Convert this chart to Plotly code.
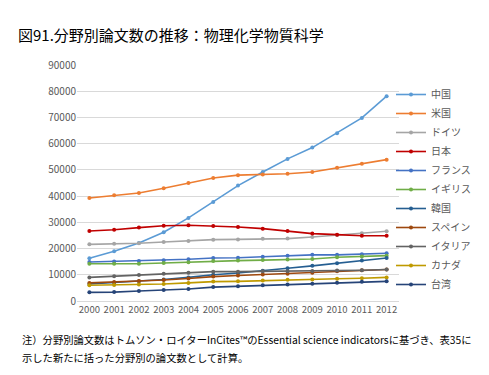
import plotly.graph_objects as go

years = [str(y) for y in range(2000, 2013)]
y_ticks = [0, 10000, 20000, 30000, 40000, 50000, 60000, 70000, 80000, 90000]

series_names = ["中国", "米国", "ドイツ", "日本", "フランス", "イギリス", "韓国", "スペイン", "イタリア", "カナダ", "台湾"]

china = [16300, 19000, 22100, 26200, 31700, 37800, 44000, 49200, 54200, 58500, 64000, 69800, 78100]
usa = [39300, 40300, 41200, 43000, 45000, 46900, 48000, 48200, 48500, 49200, 50800, 52300, 53900]
germany = [21600, 21800, 22000, 22500, 22900, 23400, 23500, 23700, 23800, 24400, 25200, 25800, 26600]
japan = [26700, 27200, 28000, 28700, 28900, 28600, 28200, 27600, 26700, 25700, 25300, 24900, 24900]
france = [14900, 15100, 15300, 15500, 15900, 16400, 16500, 16900, 17300, 17600, 17600, 17800, 18200]
uk = [14200, 14200, 14200, 14500, 14800, 15300, 15400, 15600, 15800, 16000, 16700, 17000, 17300]
korea = [6500, 7000, 7500, 8200, 9000, 10000, 10700, 11500, 12500, 13400, 14400, 15400, 16400]
spain = [6900, 7200, 7600, 8000, 8600, 9300, 9700, 10100, 10400, 10800, 11300, 11700, 12000]
italy = [9000, 9400, 9900, 10400, 10800, 11200, 11200, 11300, 11300, 11400, 11600, 11700, 12000]
canada = [6000, 6100, 6300, 6500, 6900, 7400, 7500, 7800, 8100, 8200, 8500, 8700, 9000]
taiwan = [3300, 3400, 3800, 4200, 4600, 5300, 5600, 6000, 6300, 6600, 7000, 7300, 7500]

values = [china, usa, germany, japan, france, uk, korea, spain, italy, canada, taiwan]
colors = ["#5B9BD5", "#ED7D31", "#A5A5A5", "#C00000", "#4472C4", "#70AD47",
          "#255E91", "#9E480E", "#636363", "#BF9A00", "#264478"]

title_text = "図91.分野別論文数の推移：物理化学物質科学"
note_line1 = "注）分野別論文数はトムソン・ロイターInCites™のEssential science indicatorsに基づき、表35に"
note_line2 = "示した新たに括った分野別の論文数として計算。"

FONT = "Noto Sans CJK JP"
W, H = 489, 375
ML, MR, MT, MB = 69, 98, 57, 82

fig = go.Figure()
for name, vals, col in zip(series_names, values, colors):
    fig.add_trace(go.Scatter(
        x=years, y=vals, name=name, mode="lines+markers",
        line=dict(color=col, width=1.6),
        marker=dict(color=col, size=4, symbol="circle"),
    ))

pw = W - ML - MR
ph = H - MT - MB
def px_to_paper(xp, yp):
    return (xp - ML) / pw, (H - MB - yp) / ph

lx, ly = px_to_paper(383, 181.5)
n1x, n1y = px_to_paper(12, 331)
n2x, n2y = px_to_paper(12, 349)

fig.update_layout(
    width=W, height=H,
    margin=dict(l=ML, r=MR, t=MT, b=MB),
    paper_bgcolor="white", plot_bgcolor="white",
    font=dict(family=FONT, color="#595959", size=10),
    title=dict(text=title_text, x=10 / W, xref="container", xanchor="left",
               y=1 - 28 / H, yref="container", yanchor="middle",
               font=dict(family=FONT, size=15, color="black")),
    showlegend=True,
    legend=dict(
        x=lx, y=ly, xanchor="left", yanchor="middle",
        font=dict(family=FONT, size=10, color="#595959"),
        itemwidth=30, tracegroupgap=0, bgcolor="rgba(0,0,0,0)",
    ),
    xaxis=dict(
        type="category", range=[-0.5, 12.5], automargin=False,
        showgrid=False, showline=True, linecolor="#D9D9D9", linewidth=1,
        ticks="", tickangle=0,
        tickfont=dict(family=FONT, size=9.5, color="#595959"),
        fixedrange=True,
    ),
    yaxis=dict(
        range=[0, 90000], tickvals=y_ticks, automargin=False,
        ticktext=[str(v) for v in y_ticks],
        showgrid=True, gridcolor="#D9D9D9", gridwidth=1,
        zeroline=False, showline=False, ticks="",
        tickfont=dict(family=FONT, size=10, color="#595959"),
        fixedrange=True,
    ),
)

fig.add_annotation(text=note_line1, x=n1x, y=n1y, xref="paper", yref="paper",
                   showarrow=False, xanchor="left", yanchor="middle",
                   font=dict(family=FONT, size=10.3, color="black"))
fig.add_annotation(text=note_line2, x=n2x, y=n2y, xref="paper", yref="paper",
                   showarrow=False, xanchor="left", yanchor="middle",
                   font=dict(family=FONT, size=10.3, color="black"))

fig.write_html("out.html", config={"displayModeBar": False})
